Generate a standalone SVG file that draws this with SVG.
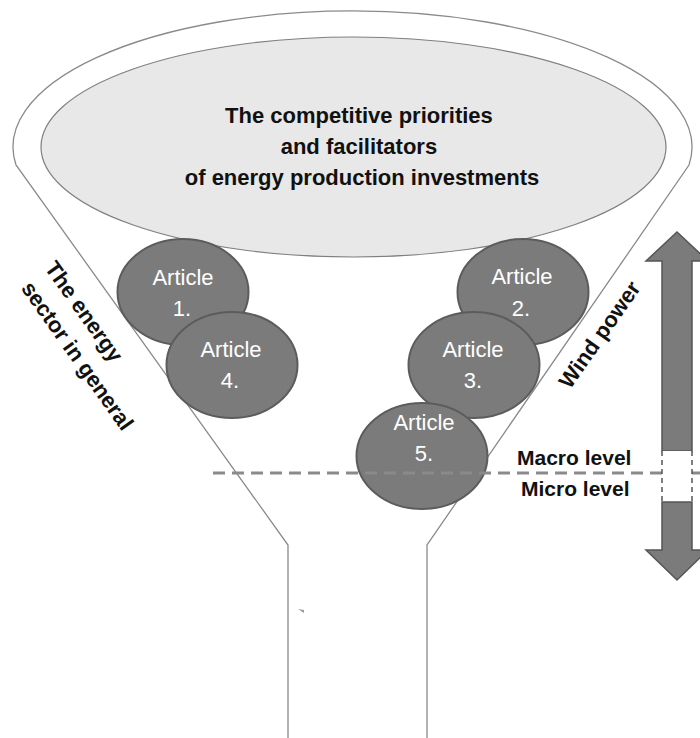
<svg xmlns="http://www.w3.org/2000/svg" width="700" height="738" viewBox="0 0 700 738">
  <style>
    .funnel { fill: none; stroke: #8a8a8a; stroke-width: 1.3; }
    .article ellipse { fill: #7b7b7b; stroke: #5c5c5c; stroke-width: 2; }
    .article text { font-family: "Liberation Sans", Arial, sans-serif; font-size: 22px; fill: #ffffff; text-anchor: middle; }
    .bold { font-family: "Liberation Sans", Arial, sans-serif; font-weight: bold; fill: #111111; }
    .arrow { fill: #7b7b7b; stroke: #555555; stroke-width: 1.5; stroke-linejoin: miter; }
  </style>

  <rect width="700" height="738" fill="#ffffff"/>

  <!-- funnel outline: rim arc, sloping sides, spout -->
  <g id="funnel">
    <path class="funnel" d="M 288 738 L 288 545 L 16 165 A 339.5 136 0 1 1 689 165 L 427 545 L 427 738"/>
    <polygon points="298,609 304,610 304,613" fill="#9a9a9a"/>
  </g>

  <!-- central topic -->
  <g id="topic">
    <ellipse cx="353.5" cy="147" rx="312.5" ry="110" fill="#e8e8e8" stroke="#7f7f7f" stroke-width="1.2"/>
    <text class="bold" font-size="22" text-anchor="middle">
      <tspan x="362" y="123">The competitive priorities</tspan>
      <tspan x="362" y="154">and facilitators</tspan>
      <tspan x="362" y="185">of energy production investments</tspan>
    </text>
  </g>

  <!-- side labels -->
  <g id="label-energy-sector">
    <text class="bold" font-size="22" transform="translate(44 268) rotate(54.7)">
      <tspan x="0" y="0">The energy</tspan>
      <tspan x="3" y="31">sector in general</tspan>
    </text>
  </g>
  <g id="label-wind-power">
    <text class="bold" font-size="22" transform="translate(570 390) rotate(-55)">Wind power</text>
  </g>

  <!-- articles -->
  <g id="article-1" class="article">
    <ellipse cx="183" cy="292" rx="65.5" ry="53"/>
    <text><tspan x="183" y="285">Article</tspan><tspan x="182" y="316">1.</tspan></text>
  </g>
  <g id="article-4" class="article">
    <ellipse cx="232" cy="365" rx="65.5" ry="53"/>
    <text><tspan x="231" y="357">Article</tspan><tspan x="230" y="388">4.</tspan></text>
  </g>
  <g id="article-2" class="article">
    <ellipse cx="523" cy="292" rx="65.5" ry="53"/>
    <text><tspan x="522" y="284">Article</tspan><tspan x="521" y="316">2.</tspan></text>
  </g>
  <g id="article-3" class="article">
    <ellipse cx="474" cy="365" rx="65.5" ry="53"/>
    <text><tspan x="473" y="357">Article</tspan><tspan x="473" y="388">3.</tspan></text>
  </g>
  <g id="article-5" class="article">
    <ellipse cx="422" cy="456" rx="65.5" ry="53"/>
    <text><tspan x="424" y="430">Article</tspan><tspan x="424" y="461">5.</tspan></text>
  </g>

  <!-- macro / micro boundary -->
  <g id="connectors">
    <line x1="213" y1="473" x2="700" y2="473" stroke="#8a8a8a" stroke-width="3" stroke-dasharray="12 7"/>
  </g>

  <!-- level scale arrow -->
  <g id="level-arrow">
    <path class="arrow" d="M 677 232 L 708 261 L 692 261 L 692 451 L 662 451 L 662 261 L 646 261 Z"/>
    <rect x="662" y="451" width="30" height="51" fill="#ffffff"/>
    <line x1="662" y1="451" x2="662" y2="502" stroke="#555555" stroke-width="1.5" stroke-dasharray="5 4"/>
    <line x1="692" y1="451" x2="692" y2="502" stroke="#555555" stroke-width="1.5" stroke-dasharray="5 4"/>
    <path class="arrow" d="M 662 502 L 692 502 L 692 550 L 708 550 L 677 580 L 646 550 L 662 550 Z"/>
  </g>

  <g id="level-labels">
    <text class="bold" font-size="21" x="517" y="465">Macro level</text>
    <text class="bold" font-size="21" x="521" y="496">Micro level</text>
  </g>
</svg>
